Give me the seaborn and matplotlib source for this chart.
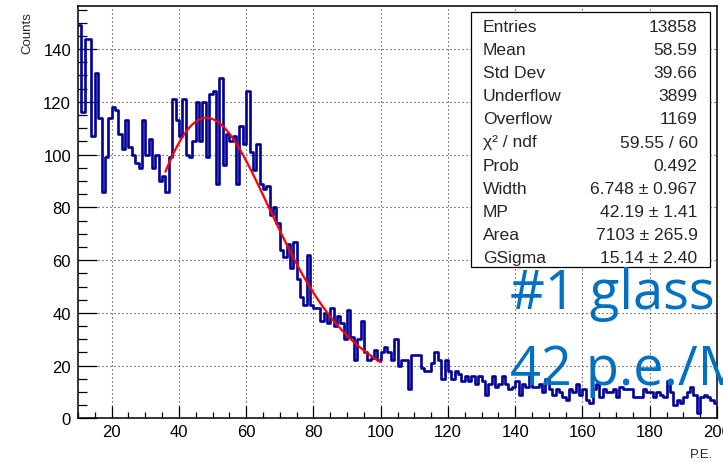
import numpy as np
import pandas as pd
import matplotlib
matplotlib.use("Agg")
import matplotlib.pyplot as plt
from matplotlib.patches import Rectangle
from matplotlib.ticker import MultipleLocator
import seaborn as sns

# Photo-electron spectrum, 1 p.e. wide bins from 10 to 200
bin_lo = 10
bin_hi = 200
counts = [
    149, 116, 144, 144, 107, 131, 114, 86, 99, 114,
    118, 117, 108, 102, 113, 103, 100, 97, 95, 113,
    100, 106, 95, 100, 90, 92, 86, 99, 121, 113,
    107, 121, 100, 99, 105, 120, 105, 120, 99, 123,
    124, 89, 129, 96, 108, 105, 107, 89, 111, 104,
    124, 101, 94, 104, 89, 87, 88, 77, 80, 74,
    64, 61, 66, 57, 67, 53, 46, 43, 62, 43,
    42, 42, 37, 40, 36, 42, 35, 39, 36, 30,
    41, 31, 22, 30, 37, 25, 22, 23, 26, 22,
    25, 27, 25, 22, 30, 20, 22, 22, 11, 24,
    24, 24, 19, 18, 18, 21, 25, 22, 15, 22,
    18, 15, 18, 17, 14, 16, 14, 16, 13, 16,
    14, 9, 13, 16, 12, 13, 16, 13, 11, 12,
    14, 9, 13, 12, 16, 12, 12, 13, 10, 15,
    11, 9, 11, 10, 8, 7, 11, 10, 13, 9,
    11, 7, 6, 11, 13, 8, 11, 10, 10, 11,
    8, 12, 11, 11, 11, 8, 8, 8, 11, 10,
    10, 8, 10, 9, 8, 14, 10, 5, 7, 6,
    8, 10, 12, 9, 2, 8, 9, 8, 7, 6,
]

# Landau (x) Gauss fit result
fit_lo, fit_hi = 36.0, 100.0
lg_width = 6.748
lg_mp = 42.19
lg_area = 7103.0
lg_gsigma = 15.14

stats_labels = ["Entries", "Mean", "Std Dev", "Underflow", "Overflow",
                "\u03c7\u00b2 / ndf", "Prob", "Width", "MP", "Area", "GSigma"]
stats_values = ["13858", "58.59", "39.66", "3899", "1169", "59.55 / 60",
                "0.492", "6.748 \u00b1 0.967", "42.19 \u00b1 1.41",
                "7103 \u00b1 265.9", "15.14 \u00b1 2.40"]

x_major = [20, 40, 60, 80, 100, 120, 140, 160, 180, 200]
y_major = [0, 20, 40, 60, 80, 100, 120, 140]


def landau_pdf(lam):
    """Landau density via inverse Laplace integral along the saddle-point contour."""
    lam = np.asarray(lam, dtype=float)
    out = np.zeros_like(lam)
    ok = np.flatnonzero(lam > -5.0)
    y = np.linspace(0.0, 35.0, 7001)
    for start in range(0, ok.size, 200):
        idx = ok[start:start + 200]
        lm = lam[idx][:, None]
        c = np.exp(-1.0 - lm)
        s = c + 1j * y[None, :]
        f = np.exp(s * np.log(s) + lm * s).real
        out[idx] = np.trapezoid(f, y, axis=1) / np.pi
    return out


def langaus(x, width, mp, area, gsigma):
    mpc = mp + 0.22278298 * width
    xx = np.arange(x.min() - 5 * gsigma, x.max() + 5 * gsigma, 0.1)
    land = landau_pdf((xx - mpc) / width) / width
    res = np.empty_like(x)
    for i, xv in enumerate(x):
        g = np.exp(-0.5 * ((xv - xx) / gsigma) ** 2) / (np.sqrt(2 * np.pi) * gsigma)
        g[np.abs(xv - xx) > 5 * gsigma] = 0.0
        res[i] = area * np.sum(land * g) * 0.1
    return res


centers = np.arange(bin_lo, bin_hi) + 0.5
hist_df = pd.DataFrame({"pe": centers, "n": np.asarray(counts, dtype=float)})

x_fit = np.linspace(fit_lo, fit_hi, 260)
fit_df = pd.DataFrame({"pe": x_fit,
                       "n": langaus(x_fit, lg_width, lg_mp, lg_area, lg_gsigma)})

sns.set_style("white")
plt.rcParams["font.family"] = ["Liberation Sans", "DejaVu Sans"]

W, H = 723, 464
fig = plt.figure(figsize=(W / 100, H / 100), dpi=100)
ax = fig.add_axes([78 / W, (H - 419.4) / H, (717 - 78) / W, (419.4 - 6.7) / H])

sns.histplot(data=hist_df, x="pe", weights="n", binwidth=1,
             binrange=(bin_lo, bin_hi), element="step", fill=False,
             color="#000099", linewidth=1.9, ax=ax)
sns.lineplot(data=fit_df, x="pe", y="n", color="#ff0000", linewidth=1.6,
             ax=ax, sort=False)
for ln in ax.lines:
    ln.set_zorder(4)

ax.set_xlim(bin_lo, bin_hi)
ax.set_ylim(0, 1.05 * max(counts))
ax.set_xlabel("")
ax.set_ylabel("")
ax.set_xticks(x_major)
ax.set_yticks(y_major)
ax.xaxis.set_minor_locator(MultipleLocator(5))
ax.yaxis.set_minor_locator(MultipleLocator(5))
ax.tick_params(axis="both", which="both", direction="in", colors="black",
               width=0.9, labelsize=12, bottom=True, left=True)
ax.tick_params(axis="y", which="major", length=13.7, pad=5)
ax.tick_params(axis="y", which="minor", length=6.8)
ax.tick_params(axis="x", which="major", length=8.9, pad=4)
ax.tick_params(axis="x", which="minor", length=4.5)
for sp in ax.spines.values():
    sp.set_color("black")
    sp.set_linewidth(1.1)
ax.set_axisbelow(True)
ax.grid(True, which="major", color="#333333", linewidth=0.8,
        linestyle=(0, (1, 2.6)))

fig.text(27 / W, 1 - 12 / H, "Counts", rotation=90, ha="center", va="top",
         fontsize=9.5)
fig.text(713 / W, 1 - 458 / H, "P.E.", ha="right", va="baseline", fontsize=9.5)

# statistics box
box = Rectangle((471 / W, 1 - 268 / H), (710 - 471) / W, (268 - 13) / H,
                transform=fig.transFigure, facecolor="white", edgecolor="black",
                linewidth=0.9, zorder=10)
fig.patches.append(box)
for i, (lab, val) in enumerate(zip(stats_labels, stats_values)):
    yb = 1 - (31.7 + 23.16 * i) / H
    fig.text(483 / W, yb, lab, ha="left", va="baseline", fontsize=12.6, zorder=11)
    fig.text(697.5 / W, yb, val, ha="right", va="baseline", fontsize=12.6, zorder=11)

blue = "#0070C0"
fig.text(510 / W, 1 - 309 / H, "#1 glass", ha="left", va="baseline",
         fontsize=39, color=blue, family=["Open Sans", "DejaVu Sans"], zorder=12)
fig.text(510 / W, 1 - 385 / H, "42 p.e./MeV", ha="left", va="baseline",
         fontsize=39, color=blue, family=["Open Sans", "DejaVu Sans"], zorder=12)

fig.savefig("out.png", dpi=100)
